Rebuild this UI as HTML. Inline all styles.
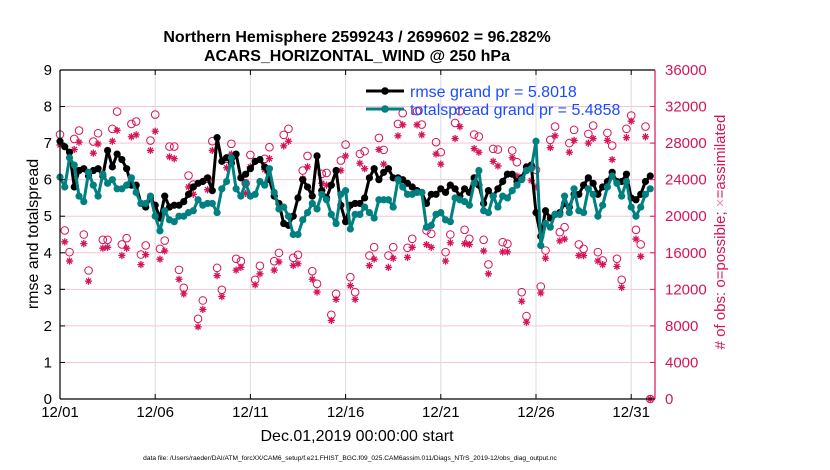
<!DOCTYPE html>
<html><head><meta charset="utf-8"><style>
body{margin:0;background:#fff;}
svg{display:block;font-family:"Liberation Sans",Arial,sans-serif;}
</style></head><body>
<svg id="chart" width="830" height="470" viewBox="0 0 830 470">
<text x="357" y="42" text-anchor="middle" font-size="16" font-weight="bold">Northern Hemisphere 2599243 / 2699602 = 96.282%</text>
<text x="357" y="61" text-anchor="middle" font-size="16" font-weight="bold">ACARS_HORIZONTAL_WIND @ 250 hPa</text>
<g id="grid"></g>
<g id="obs"></g>
<g id="lines"></g>
<g id="axes"></g>
<text transform="translate(38,234) rotate(-90)" text-anchor="middle" font-size="16">rmse and totalspread</text>
<text transform="translate(725,232) rotate(-90)" text-anchor="middle" font-size="15" fill="#d6145a"># of obs: o=possible; <tspan fill="#e890b0">×</tspan>=assimilated</text>
<text x="357" y="441" text-anchor="middle" font-size="16">Dec.01,2019 00:00:00 start</text>
<text x="350" y="460" text-anchor="middle" font-size="6.6">data file: /Users/raeder/DAI/ATM_forcXX/CAM6_setup/f.e21.FHIST_BGC.f09_025.CAM6assim.011/Diags_NTrS_2019-12/obs_diag_output.nc</text>
<g id="legend"></g>
</svg>
<script>
const xTickLabels=["12/01","12/06","12/11","12/16","12/21","12/26","12/31"];
const xTickDays=[0,5,10,15,20,25,30];
const leftTicks=[0,1,2,3,4,5,6,7,8,9];
const rightTicks=[0,4000,8000,12000,16000,20000,24000,28000,32000,36000];
const stepDays=0.25;
const rmse=[7.05,6.9,6.75,5.8,6.25,6.3,6.1,6.25,6.3,6.1,6.8,6.35,6.7,6.55,6.3,5.85,5.85,5.35,5.25,5.5,5.3,4.95,5.55,5.25,5.3,5.3,5.4,5.6,5.8,5.9,5.95,6.05,
5.7,7.15,6.5,6.6,6.45,6.7,6.05,6.15,6.3,6.5,6.55,6.35,6.0,5.55,5.35,4.8,4.75,5.0,5.5,6.0,5.8,5.55,6.65,5.7,5.5,5.85,6.25,5.3,4.85,5.3,5.35,
5.35,5.5,6.05,6.3,6.0,6.2,6.3,6.05,6.05,6.0,5.9,5.8,5.7,5.65,5.35,5.6,5.6,5.75,5.65,5.85,5.75,5.55,5.75,5.65,6.05,5.85,5.35,5.7,5.55,5.75,5.95,6.15,
6.15,5.95,6.05,6.35,6.4,5.1,4.45,5.15,4.95,5.05,5.1,5.35,5.25,5.6,5.6,5.85,6.05,5.9,5.6,5.8,5.95,6.2,5.95,5.95,6.15,5.5,5.45,5.6,5.95,6.1];
const spread=[6.07,5.8,6.6,6.4,5.55,5.4,6.2,5.85,5.55,6.15,5.9,6.0,5.75,5.75,5.85,6.05,5.65,5.35,5.35,5.55,5.0,4.6,5.15,4.9,4.85,5.0,5.0,5.1,5.15,5.45,5.3,5.35,
5.35,5.1,5.75,5.95,6.6,5.75,5.55,5.9,5.55,5.6,5.95,5.85,6.3,5.65,5.2,5.25,5.0,4.5,4.5,4.9,5.1,5.35,5.2,5.6,5.45,5.05,4.8,5.6,5.7,4.65,5.05,
5.05,5.25,5.1,4.95,5.45,5.45,5.45,5.25,6.0,5.8,5.6,5.6,5.65,5.65,4.7,4.75,5.05,5.1,4.9,4.85,5.5,5.45,5.4,5.3,5.9,6.25,5.15,5.1,5.55,5.25,5.55,
5.5,5.7,5.85,6.0,6.25,6.3,7.05,4.2,4.8,4.7,5.05,5.05,5.55,5.1,5.75,5.15,5.1,5.75,5.6,5.0,5.3,5.8,6.1,5.9,5.55,5.95,5.25,5.0,5.25,5.6,5.75];
const possible=[28940,18440,16070,28460,29370,18000,14060,28170,29080,17420,17420,29560,31450,16910,17600,30100,30360,15810,16800,28280,31120,16430,17340,27620,27620,14130,12170,24450,23470,8770,10780,24090,
28210,14350,11950,26280,27920,15340,15080,23610,26710,13040,14570,26280,27550,15080,15990,28900,29560,15450,15780,25000,26600,13990,12600,24640,24740,9210,11510,26090,27840,13330,11690,
26820,27110,15700,16610,28570,27260,15700,16610,30100,31270,16540,17530,31490,30030,18440,18080,28100,27000,16070,18000,30210,31490,18510,17530,28940,28720,17420,14720,27370,27300,17160,
16980,27190,25910,11690,9070,25360,25070,12310,16250,28350,29810,18250,18800,28000,29450,16910,16430,29010,29920,16070,15160,29120,27730,15340,13040,29560,31020,18510,16910,29810,0];
const assimilated=[27800,17200,15100,27300,28100,17000,12900,26900,27900,16500,16600,28200,29400,15700,16500,28700,28900,14700,15800,27200,29300,15300,16200,26500,26300,13100,11500,23200,22400,7900,9800,22900,
27200,13500,11200,25300,26800,14100,14400,22500,25400,12500,13700,25100,26300,14100,15000,27700,28200,14600,14800,24100,25400,13100,11700,23600,23400,8600,10900,25000,26600,12400,10900,
25800,25200,14600,15300,27300,25700,14400,15400,28800,30000,15500,16600,30000,28900,16900,16600,26800,25700,15100,17100,28500,29800,17000,16900,27400,27000,16200,13700,26000,25500,16100,
16100,26400,24400,10700,8400,23900,23200,11600,15400,27500,28800,17300,17500,27000,28300,15700,15700,28000,28500,15100,14700,28300,26200,14500,12200,28600,30400,17500,15600,28700,0];
const legendLabels=["rmse grand pr = 5.8018","totalspread grand pr = 5.4858"];

const X0=60,X1=655,Y0=70,Y1=399,XMAX=31.25;
const xs=d=>X0+(d/XMAX)*(X1-X0);
const yL=v=>Y1-(v/9)*(Y1-Y0);
const yR=v=>Y1-(v/36000)*(Y1-Y0);
const NS="http://www.w3.org/2000/svg";
function mk(tag,attrs,parent){const e=document.createElementNS(NS,tag);for(const k in attrs)e.setAttribute(k,attrs[k]);parent.appendChild(e);return e;}
const grid=document.getElementById('grid'),axes=document.getElementById('axes'),obs=document.getElementById('obs'),lines=document.getElementById('lines'),legend=document.getElementById('legend');
const RED="#d6145a",TEAL="#008080";

rightTicks.forEach((t,i)=>{
  const g=mk('line',{x1:X0,x2:X1,y1:yR(t),y2:yR(t),stroke:"#f3c6d6","stroke-width":1},grid);
  
  
});
xTickDays.forEach((d,i)=>{
  const g=mk('line',{x1:xs(d),x2:xs(d),y1:Y0,y2:Y1,stroke:"#dcdcdc","stroke-width":1},grid);
  
  
  const t=mk('line',{x1:xs(d),x2:xs(d),y1:Y1,y2:Y1-5,stroke:"#000"},axes);
  
  
  const t2=mk('line',{x1:xs(d),x2:xs(d),y1:Y0,y2:Y0+5,stroke:"#000"},axes);
  
  
  const l=mk('text',{x:xs(d),y:417,"text-anchor":"middle","font-size":15},axes);
  l.textContent=xTickLabels[i];
  
  
});
leftTicks.forEach(v=>{
  const t=mk('line',{x1:X0,x2:X0+5,y1:yL(v),y2:yL(v),stroke:"#000"},axes);
  
  
  const l=mk('text',{x:52,y:yL(v)+5,"text-anchor":"end","font-size":15},axes);
  l.textContent=v;
  
  
});
rightTicks.forEach(v=>{
  const t=mk('line',{x1:X1-5,x2:X1,y1:yR(v),y2:yR(v),stroke:RED},axes);
  
  
  const l=mk('text',{x:665,y:yR(v)+5,"text-anchor":"start","font-size":15,fill:RED},axes);
  l.textContent=v;
  
  
});
let a=mk('line',{x1:X0,x2:X0,y1:Y0,y2:Y1,stroke:"#000","stroke-width":1.2},axes);

a=mk('line',{x1:X0,x2:X1,y1:Y1,y2:Y1,stroke:"#000","stroke-width":1.2},axes);

a=mk('line',{x1:X0,x2:X1,y1:Y0,y2:Y0,stroke:"#000","stroke-width":1.2},axes);

a=mk('line',{x1:X1,x2:X1,y1:Y0,y2:Y1,stroke:RED,"stroke-width":1.2},axes);


function star(cx,cy,r,parent,color){
  const p=`M${cx-r},${cy}H${cx+r}M${cx},${cy-r}V${cy+r}M${cx-r*0.7},${cy-r*0.7}L${cx+r*0.7},${cy+r*0.7}M${cx-r*0.7},${cy+r*0.7}L${cx+r*0.7},${cy-r*0.7}`;
  return mk('path',{d:p,stroke:color,"stroke-width":1.3,fill:"none"},parent);
}
possible.forEach((v,i)=>{
  const c=mk('circle',{cx:xs(i*stepDays),cy:yR(v),r:3.8,fill:"none",stroke:RED,"stroke-width":1},obs);
  
  
});
assimilated.forEach((v,i)=>{
  const s=star(xs(i*stepDays),yR(v),3.6,obs,RED);
  
  
});
function series(arr,color,name){
  const pts=arr.map((v,i)=>xs(i*stepDays).toFixed(1)+","+yL(v).toFixed(1)).join(" ");
  const pl=mk('polyline',{points:pts,fill:"none",stroke:color,"stroke-width":3,"stroke-linejoin":"round"},lines);
  
  
  arr.forEach((v,i)=>{
    const c=mk('circle',{cx:xs(i*stepDays),cy:yL(v),r:3.6,fill:color},lines);
    
    
  });
}
series(rmse,"#000","rmse");
series(spread,TEAL,"totalspread");

[["#000",91],[TEAL,109]].forEach((e,i)=>{
  const l=mk('line',{x1:366,x2:404,y1:e[1],y2:e[1],stroke:e[0],"stroke-width":3},legend);
  
  
  const c=mk('circle',{cx:385,cy:e[1],r:3.8,fill:e[0]},legend);
  
  
  const t=mk('text',{x:410,y:e[1]+6,"font-size":16,fill:"#1a4cff"},legend);
  t.textContent=legendLabels[i];
  
  
});
</script>
</body></html>
